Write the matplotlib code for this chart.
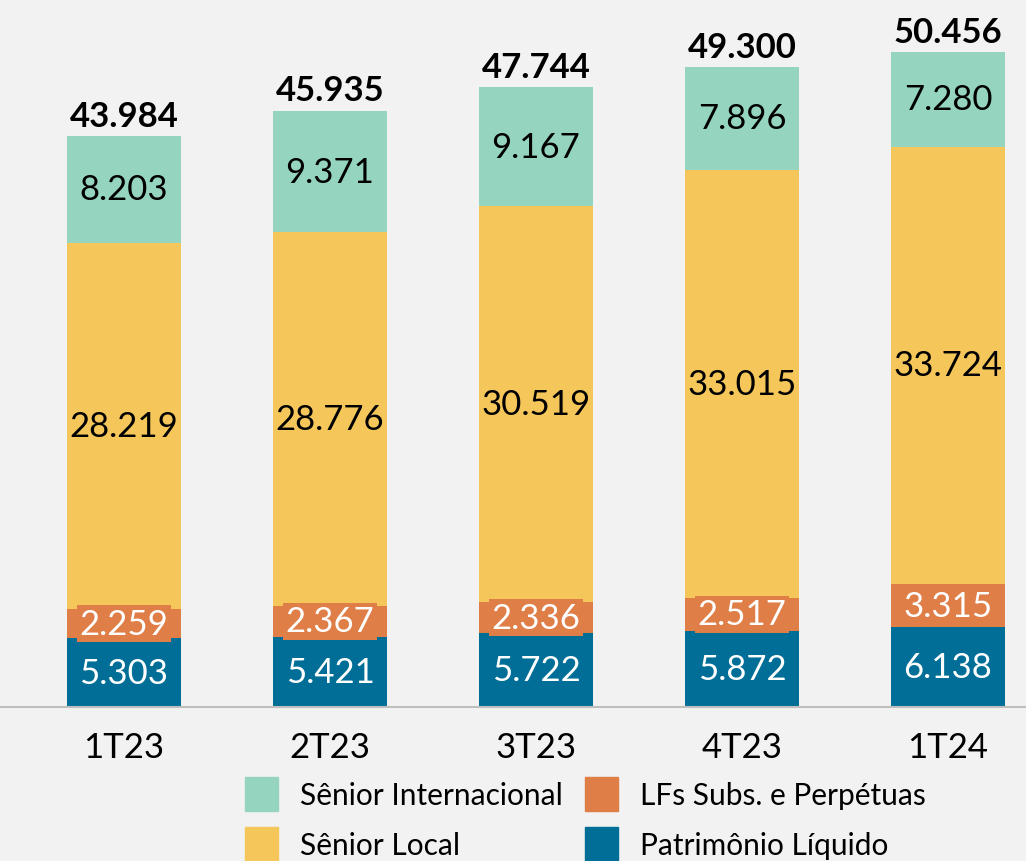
import matplotlib
matplotlib.use("Agg")
import matplotlib.pyplot as plt
from matplotlib.patches import Patch

categories = ["1T23", "2T23", "3T23", "4T23", "1T24"]
patrimonio = [5.303, 5.421, 5.722, 5.872, 6.138]
lfs_subs = [2.259, 2.367, 2.336, 2.517, 3.315]
senior_local = [28.219, 28.776, 30.519, 33.015, 33.724]
senior_int = [8.203, 9.371, 9.167, 7.896, 7.280]
totals = [43.984, 45.935, 47.744, 49.300, 50.456]

series = [
    ("Patrimônio Líquido", patrimonio, "#006E96", "white"),
    ("LFs Subs. e Perpétuas", lfs_subs, "#DF7E47", "white"),
    ("Sênior Local", senior_local, "#F5C75B", "black"),
    ("Sênior Internacional", senior_int, "#95D5C0", "black"),
]

def fmt(v):
    return f"{v:.3f}"

plt.rcParams["font.family"] = ["Lato", "DejaVu Sans"]
bg = "#F2F2F2"
fig = plt.figure(figsize=(10.26, 8.62), dpi=100, facecolor=bg)
ax = fig.add_axes([0, 1 - 708 / 862, 1, 708 / 862], facecolor=bg)

x = list(range(len(categories)))
bottom = [0.0] * len(categories)
for name, vals, color, tcolor in series:
    ax.bar(x, vals, width=0.555, bottom=bottom, color=color, label=name)
    for i, (b, v) in enumerate(zip(bottom, vals)):
        kw = {}
        if name.startswith("LFs"):
            kw["bbox"] = dict(boxstyle="square,pad=0.08", fc=color, ec="none")
        ax.text(i, b + v / 2, fmt(v), ha="center", va="center", fontsize=25,
                color=tcolor, **kw)
    bottom = [b + v for b, v in zip(bottom, vals)]

for i, t in enumerate(totals):
    ax.text(i, t + 0.35, fmt(t), ha="center", va="bottom", fontsize=25,
            fontweight="bold", color="black")

ax.set_xlim(-0.602, 4.379)
ax.set_ylim(0, 54.55)
for s in ["top", "right", "left"]:
    ax.spines[s].set_visible(False)
ax.spines["bottom"].set_color("#BFBFBF")
ax.spines["bottom"].set_linewidth(1.5)
ax.set_yticks([])
ax.set_xticks(x)
ax.set_xticklabels(categories, fontsize=25)
ax.tick_params(axis="x", length=0, pad=17)

handles = [Patch(color=c, label=n) for n, _, c, _ in series]
order = [handles[3], handles[2], handles[1], handles[0]]
fig.legend(handles=order, loc="upper left", bbox_to_anchor=(245 / 1026, 1 - 778 / 862),
           ncol=2, frameon=False, fontsize=21.5, handlelength=1.1, handleheight=1.35,
           columnspacing=0.74, handletextpad=0.74, labelspacing=0.55, borderpad=0,
           borderaxespad=0)

fig.savefig("out.png", dpi=100, facecolor=bg)
